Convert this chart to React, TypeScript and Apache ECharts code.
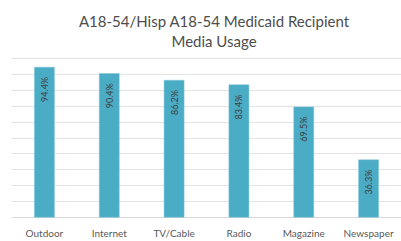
import React, { useEffect, useRef } from "react";
import * as echarts from "echarts";

const categories = ["Outdoor", "Internet", "TV/Cable", "Radio", "Magazine", "Newspaper"];
const values = [94.4, 90.4, 86.2, 83.4, 69.5, 36.3];
const titleLines = ["A18-54/Hisp A18-54 Medicaid Recipient", "Media Usage"];

export default function App() {
  const ref = useRef<HTMLDivElement>(null);
  useEffect(() => {
    if (!ref.current) return;
    const chart = echarts.init(ref.current, undefined, { renderer: "svg" });
    chart.setOption({
      animation: false,
      backgroundColor: "#ffffff",
      title: {
        text: titleLines.join("\n"),
        left: 209,
        top: 6,
        textAlign: "center",
        textStyle: {
          fontFamily: "Lato",
          fontSize: 15,
          fontWeight: "normal",
          color: "#4d4d4d",
          lineHeight: 20,
        },
      },
      grid: { left: 12, top: 58, width: 397, height: 159.5 },
      xAxis: {
        type: "category",
        data: categories,
        axisLine: { lineStyle: { color: "#d9d9d9" } },
        axisTick: { show: false },
        axisLabel: {
          fontFamily: "Lato",
          fontSize: 10,
          color: "#595959",
          margin: 10,
          interval: 0,
        },
      },
      yAxis: {
        type: "value",
        min: 0,
        max: 100,
        interval: 10,
        axisLabel: { show: false },
        axisLine: { show: false },
        axisTick: { show: false },
        splitLine: { lineStyle: { color: "#e3e3e3", width: 1 } },
      },
      series: [
        {
          type: "bar",
          data: values,
          barWidth: 20.5,
          itemStyle: { color: "#4bacc6", borderColor: "#7cc3d6", borderWidth: 0.5 },
          label: {
            show: true,
            position: "insideTop",
            distance: 10,
            rotate: 90,
            align: "right",
            verticalAlign: "middle",
            formatter: (p: any) => p.value.toFixed(1) + "%",
            fontFamily: "Lato",
            fontSize: 9,
            color: "#404040",
          },
        },
      ],
    });
    return () => chart.dispose();
  }, []);
  return (
    <div
      ref={ref}
      style={{ position: "fixed", left: 0, top: 0, width: 401, height: 241 }}
    />
  );
}
